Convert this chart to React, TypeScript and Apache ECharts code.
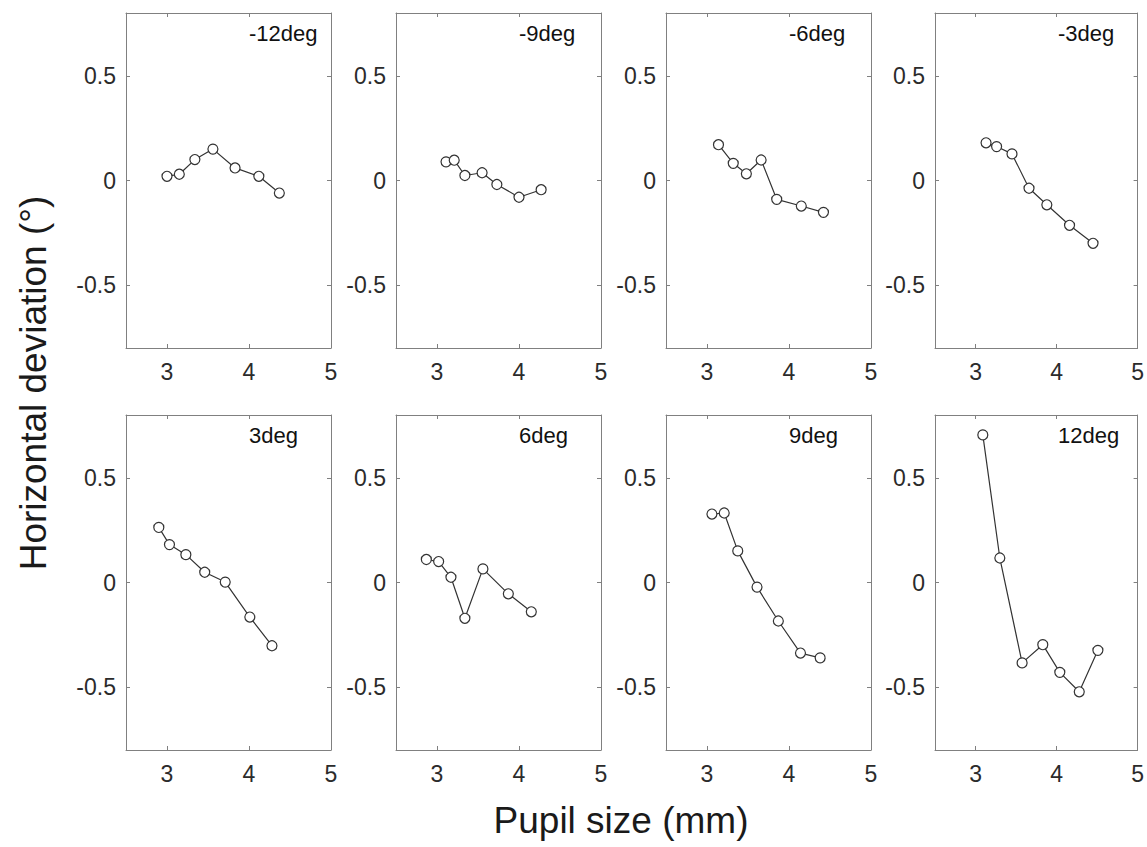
import React, { useEffect, useRef } from "react";
import * as echarts from "echarts";

const panelTitles = ["-12deg", "-9deg", "-6deg", "-3deg", "3deg", "6deg", "9deg", "12deg"];

const pupilM12 = [3.0, 3.15, 3.34, 3.56, 3.83, 4.12, 4.37];
const devM12 = [0.02, 0.03, 0.1, 0.15, 0.06, 0.02, -0.06];
const pupilM9 = [3.11, 3.21, 3.34, 3.55, 3.73, 4.0, 4.27];
const devM9 = [0.089, 0.097, 0.024, 0.037, -0.019, -0.08, -0.044];
const pupilM6 = [3.14, 3.32, 3.48, 3.66, 3.85, 4.15, 4.42];
const devM6 = [0.171, 0.082, 0.032, 0.098, -0.09, -0.122, -0.152];
const pupilM3 = [3.13, 3.26, 3.45, 3.66, 3.88, 4.16, 4.45];
const devM3 = [0.18, 0.162, 0.127, -0.037, -0.116, -0.214, -0.3];
const pupilP3 = [2.9, 3.03, 3.23, 3.46, 3.71, 4.01, 4.28];
const devP3 = [0.263, 0.181, 0.133, 0.049, 0.002, -0.165, -0.302];
const pupilP6 = [2.87, 3.02, 3.17, 3.34, 3.56, 3.87, 4.15];
const devP6 = [0.11, 0.1, 0.025, -0.171, 0.065, -0.054, -0.14];
const pupilP9 = [3.06, 3.21, 3.375, 3.61, 3.87, 4.14, 4.38];
const devP9 = [0.327, 0.332, 0.151, -0.022, -0.184, -0.337, -0.36];
const pupilP12 = [3.09, 3.3, 3.575, 3.83, 4.04, 4.28, 4.51];
const devP12 = [0.705, 0.117, -0.384, -0.297, -0.429, -0.522, -0.324];

const pupilSets = [pupilM12, pupilM9, pupilM6, pupilM3, pupilP3, pupilP6, pupilP9, pupilP12];
const devSets = [devM12, devM9, devM6, devM3, devP3, devP6, devP9, devP12];

const xTicks = [3, 4, 5];
const yTicks = [-0.5, 0, 0.5];
const xMin = 2.5;
const xMax = 5;
const yMin = -0.8;
const yMax = 0.8;

const yTitle = "Horizontal deviation (°)";
const xTitle = "Pupil size (mm)";

const colLefts = [126, 396, 666, 935];
const rowTops = [13, 415];
const gridW = 205;
const gridH = 335;

const FONT = "'Liberation Sans', Arial, Helvetica, sans-serif";

export default function App() {
  const ref = useRef<HTMLDivElement>(null);

  useEffect(() => {
    if (!ref.current) return;
    const chart = echarts.init(ref.current, null, { renderer: "svg" });

    const grids: any[] = [];
    const xAxes: any[] = [];
    const yAxes: any[] = [];
    const series: any[] = [];
    const graphics: any[] = [];

    const axisLine = { show: true, onZero: false, lineStyle: { color: "#808080", width: 1 } };
    const tickStyle = { show: true, inside: true, length: 4, lineStyle: { color: "#808080", width: 1 } };

    panelTitles.forEach((title, i) => {
      const row = Math.floor(i / 4);
      const col = i % 4;
      const left = colLefts[col];
      const top = rowTops[row];
      grids.push({ left, top, width: gridW, height: gridH, containLabel: false });

      xAxes.push({
        type: "value",
        gridIndex: i,
        position: "bottom",
        min: xMin,
        max: xMax,
        interval: 0.5,
        axisLine,
        axisTick: { ...tickStyle, customValues: xTicks },
        axisLabel: {
          show: true,
          customValues: xTicks,
          margin: 12,
          color: "#2b2b2b",
          fontSize: 23,
          fontFamily: FONT,
          showMaxLabel: true,
          showMinLabel: true,
        },
        splitLine: { show: false },
      });
      xAxes.push({
        type: "value",
        gridIndex: i,
        position: "top",
        min: xMin,
        max: xMax,
        interval: 0.5,
        axisLine,
        axisTick: { ...tickStyle, customValues: xTicks },
        axisLabel: { show: false },
        splitLine: { show: false },
      });
      yAxes.push({
        type: "value",
        gridIndex: i,
        position: "left",
        min: yMin,
        max: yMax,
        interval: 0.1,
        axisLine,
        axisTick: { ...tickStyle, customValues: yTicks },
        axisLabel: {
          show: true,
          customValues: yTicks,
          margin: 10,
          color: "#2b2b2b",
          fontSize: 23,
          fontFamily: FONT,
        },
        splitLine: { show: false },
      });
      yAxes.push({
        type: "value",
        gridIndex: i,
        position: "right",
        min: yMin,
        max: yMax,
        interval: 0.1,
        axisLine,
        axisTick: { ...tickStyle, customValues: yTicks },
        axisLabel: { show: false },
        splitLine: { show: false },
      });

      const xs = pupilSets[i];
      const ys = devSets[i];
      series.push({
        type: "line",
        name: title,
        xAxisIndex: 2 * i,
        yAxisIndex: 2 * i,
        data: xs.map((x, k) => [x, ys[k]]),
        symbol: "circle",
        symbolSize: 10,
        showAllSymbol: true,
        lineStyle: { color: "#333", width: 1.2 },
        itemStyle: { color: "#ffffff", borderColor: "#333", borderWidth: 1.2 },
        z: 3,
      });

      graphics.push({
        type: "text",
        x: left + 123,
        y: top + 9,
        style: {
          text: title,
          fill: "#111",
          font: `22px ${FONT}`,
          textAlign: "left",
          textVerticalAlign: "top",
        },
        z: 10,
      });
    });

    graphics.push({
      type: "text",
      x: 33,
      y: 383,
      rotation: Math.PI / 2,
      style: {
        text: yTitle,
        fill: "#1a1a1a",
        font: `37px ${FONT}`,
        textAlign: "center",
        textVerticalAlign: "middle",
      },
    });
    graphics.push({
      type: "text",
      x: 621,
      y: 820,
      style: {
        text: xTitle,
        fill: "#1a1a1a",
        font: `37px ${FONT}`,
        textAlign: "center",
        textVerticalAlign: "middle",
      },
    });

    chart.setOption({
      animation: false,
      backgroundColor: "#ffffff",
      grid: grids,
      xAxis: xAxes,
      yAxis: yAxes,
      series,
      graphic: graphics,
    });

    return () => chart.dispose();
  }, []);

  return (
    <div
      ref={ref}
      style={{ position: "fixed", left: 0, top: 0, width: 1147, height: 847, background: "#fff" }}
    />
  );
}
